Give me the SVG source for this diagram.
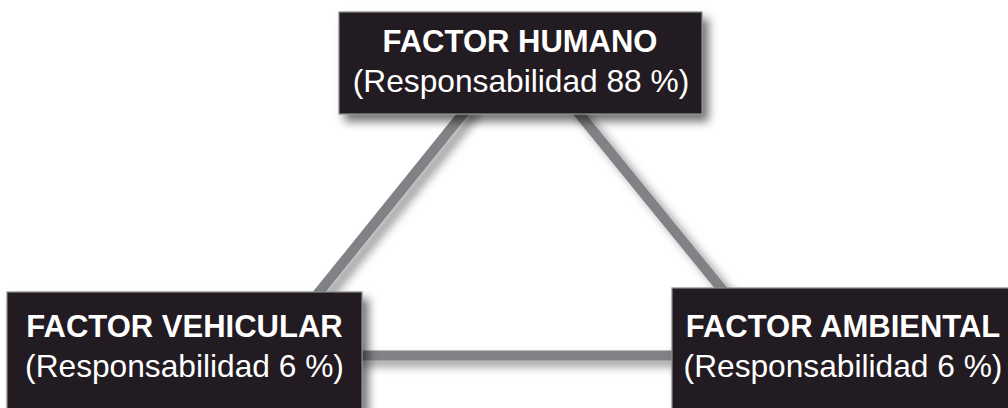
<svg xmlns="http://www.w3.org/2000/svg" width="1008" height="408" viewBox="0 0 1008 408">
  <defs>
    <filter id="boxShadow" x="-20%" y="-20%" width="150%" height="160%">
      <feDropShadow dx="6" dy="7" stdDeviation="5" flood-color="#000" flood-opacity="0.55"/>
    </filter>
    <filter id="lineShadow" x="-30%" y="-30%" width="160%" height="160%">
      <feDropShadow dx="7" dy="6" stdDeviation="5" flood-color="#000" flood-opacity="0.4"/>
    </filter>
  </defs>
  <style>
    .box { fill: #231f20; stroke: #8a8a8c; stroke-width: 1.2; filter: url(#boxShadow); }
    .conn { stroke: #808285; stroke-width: 10; fill: none; stroke-linecap: butt; }
    .title { font-family: "Liberation Sans", Arial, sans-serif; font-weight: bold; font-size: 31px; fill: #ffffff; text-anchor: middle; }
    .sub { font-family: "Liberation Sans", Arial, sans-serif; font-size: 31.7px; fill: #ffffff; text-anchor: middle; }
  </style>
  <rect x="0" y="0" width="1008" height="408" fill="#ffffff"/>
  <g id="connectors" filter="url(#lineShadow)">
    <line class="conn" x1="470" y1="105" x2="316" y2="296"/>
    <line class="conn" x1="572" y1="105" x2="725" y2="293"/>
    <line class="conn" x1="355" y1="355.5" x2="680" y2="355.5"/>
  </g>
  <g id="node-humano">
    <rect class="box" x="339" y="12" width="363" height="102"/>
    <text class="title" x="520" y="51.5">FACTOR HUMANO</text>
    <text class="sub" x="521" y="92">(Responsabilidad 88 %)</text>
  </g>
  <g id="node-vehicular">
    <rect class="box" x="7" y="292" width="355" height="130"/>
    <text class="title" x="184.5" y="337">FACTOR VEHICULAR</text>
    <text class="sub" x="184.5" y="377">(Responsabilidad 6 %)</text>
  </g>
  <g id="node-ambiental">
    <rect class="box" x="672" y="288" width="345" height="134"/>
    <text class="title" x="843" y="337">FACTOR AMBIENTAL</text>
    <text class="sub" x="843" y="377">(Responsabilidad 6 %)</text>
  </g>
</svg>
